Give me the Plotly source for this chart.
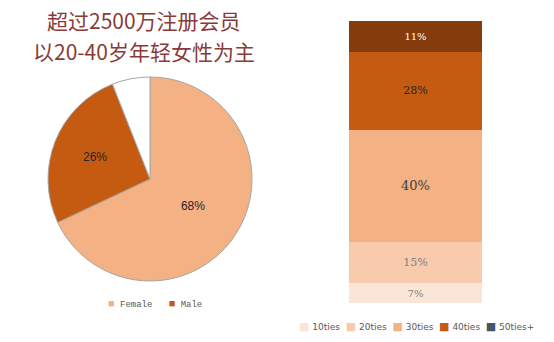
import plotly.graph_objects as go

# ---- data ----
title_lines = ["超过2500万注册会员", "以20-40岁年轻女性为主"]

pie_labels = ["Female", "Male", "Other"]
pie_values = [68, 26, 6]
pie_colors = ["#F4B183", "#C55A11", "#FFFFFF"]
pie_legend_labels = ["Female", "Male"]

age_labels = ["10ties", "20ties", "30ties", "40ties", "50ties+"]
age_values = [7, 15, 40, 28, 11]
age_colors = ["#FBE5D6", "#F8CBAD", "#F4B183", "#C55A11", "#843C0C"]
age_legend_colors = ["#FBE5D6", "#F8CBAD", "#F4B183", "#C55A11", "#44546A"]
age_text_colors = ["#7F7F7F", "#7F7F7F", "#404040", "#262626", "#FFFFFF"]
age_text_sizes = [10, 11, 13, 11, 10]

W, H = 554, 342

fig = go.Figure()

fig.add_trace(go.Pie(
    labels=pie_labels,
    values=pie_values,
    text=[f"{v}%" if l != "Other" else "" for l, v in zip(pie_labels, pie_values)],
    textinfo="text",
    textposition="inside",
    insidetextorientation="horizontal",
    textfont=dict(family="Liberation Sans, Arial", size=12, color="#262626"),
    marker=dict(colors=pie_colors, line=dict(color="#A6A6A6", width=1)),
    sort=False,
    direction="clockwise",
    rotation=0,
    showlegend=False,
    hoverinfo="label+percent",
    domain=dict(x=[48 / W, 252 / W], y=[1 - 281 / H, 1 - 77 / H]),
))

for lab, val, col, tc, ts in zip(age_labels, age_values, age_colors, age_text_colors, age_text_sizes):
    fig.add_trace(go.Bar(
        x=[0], y=[val], name=lab,
        marker=dict(color=col, line=dict(width=0)),
        text=[f"{val}%"], textposition="inside", insidetextanchor="middle",
        textfont=dict(family="DejaVu Serif", size=ts, color=tc),
        width=1, showlegend=False,
        xaxis="x", yaxis="y",
    ))

fig.update_layout(
    width=W, height=H,
    margin=dict(l=0, r=0, t=0, b=0),
    paper_bgcolor="white", plot_bgcolor="white",
    barmode="stack",
    uniformtext=dict(mode=False),
    xaxis=dict(domain=[349 / W, 482 / W], range=[-0.5, 0.5], visible=False, fixedrange=True),
    yaxis=dict(domain=[1 - 303 / H, 1 - 21 / H], range=[0, sum(age_values)], visible=False, fixedrange=True),
)

# title (two lines)
for line, yc in zip(title_lines, [20, 51]):
    fig.add_annotation(
        text=line, x=144 / W, y=1 - yc / H,
        xref="paper", yref="paper", xanchor="center", yanchor="middle",
        showarrow=False, align="center", borderpad=0,
        font=dict(family="Noto Sans CJK SC", size=21, color="#8B3A3A"),
    )

# pie legend
pie_leg = "   ".join(
    f"<span style='color:{c};font-size:11px'>■</span> {l}" for l, c in zip(pie_legend_labels, pie_colors)
)
fig.add_annotation(
    text=pie_leg, x=155 / W, y=1 - 304 / H, xref="paper", yref="paper",
    xanchor="center", yanchor="middle", showarrow=False,
    font=dict(family="Liberation Mono", size=9, color="#595959"),
)

# age legend
age_leg = "  ".join(
    f"<span style='color:{c};font-size:11px'>■</span> {l}" for l, c in zip(age_labels, age_legend_colors)
)
fig.add_annotation(
    text=age_leg, x=416 / W, y=1 - 326 / H, xref="paper", yref="paper",
    xanchor="center", yanchor="middle", showarrow=False,
    font=dict(family="DejaVu Sans", size=9, color="#595959"),
)

fig.write_html("out.html")
